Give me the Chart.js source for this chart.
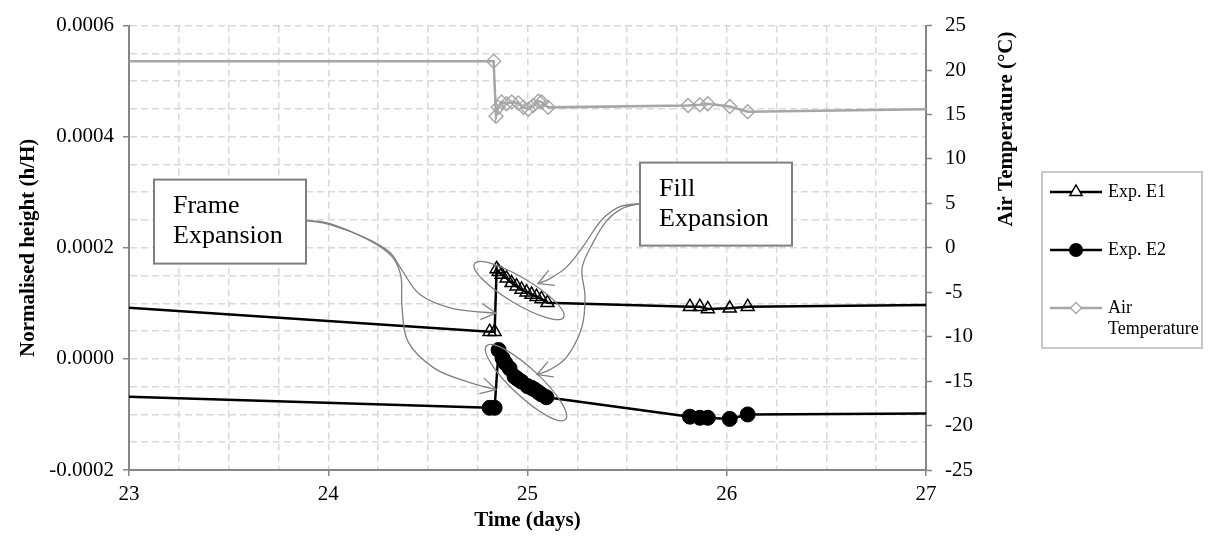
<!DOCTYPE html>
<html>
<head>
<meta charset="utf-8">
<script src="https://cdn.jsdelivr.net/npm/chart.js@4.4.1/dist/chart.umd.min.js"></script>
<style>
  html, body { margin: 0; padding: 0; background: #fff; }
  #wrap { width: 1213px; height: 542px; }
</style>
</head>
<body>
<div id="wrap"><canvas id="chart" width="1213" height="542"></canvas></div>
<script>
// Exp. E1 - normalised height (h/H) against time (days)
const timeE1 = [23.0, 24.81, 24.835, 24.845, 24.855, 24.87, 24.895, 24.92, 24.945, 24.97, 24.995, 25.02, 25.045, 25.07, 25.1,
                25.815, 25.865, 25.905, 26.015, 26.105, 27.0];
const heightE1 = [0.000092, 0.000049, 0.000049, 0.000162, 0.000157, 0.000152, 0.000145, 0.000137, 0.000131, 0.000125, 0.000120, 0.000116, 0.000112, 0.000108, 0.000101,
                  0.000094, 0.000094, 0.000090, 0.000091, 0.000094, 0.000097];

// Exp. E2
const timeE2 = [23.0, 24.81, 24.835, 24.855, 24.875, 24.89, 24.91, 24.935, 24.95, 24.97, 25.0, 25.02, 25.035, 25.055, 25.07, 25.095,
                25.815, 25.865, 25.905, 26.015, 26.105, 27.0];
const heightE2 = [-0.000068, -0.000088, -0.000088, 0.000016, 0.000001, -0.000008, -0.000017, -0.000032, -0.000036, -0.000041, -0.000049, -0.000052, -0.000055, -0.000060, -0.000064, -0.000069,
                  -0.000104, -0.000106, -0.000106, -0.000108, -0.000100, -0.0000985];

// Air temperature (°C)
const timeAir = [23.0, 24.83, 24.842, 24.853, 24.87, 24.895, 24.921, 24.954, 24.979, 25.004, 25.029, 25.054, 25.071, 25.104,
                 25.806, 25.865, 25.905, 26.015, 26.105, 27.0];
const tempAir = [21.0, 21.0, 14.8, 15.8, 16.4, 16.2, 16.4, 16.3, 15.8, 15.6, 16.0, 16.5, 16.4, 15.8,
                 16.0, 16.1, 16.2, 15.9, 15.3, 15.6];

const xTicksMajor = [23, 24, 25, 26, 27];
const serif = '"Liberation Serif", "Times New Roman", serif';
const axisGrey = '#868686';
const gridGrey = '#d9d9d9';
const calloutGrey = '#7f7f7f';

const toPoints = (xs, ys) => xs.map((x, i) => ({ x: x, y: ys[i] }));
const isWhole = v => Math.abs(v - Math.round(v)) < 1e-9;
const isMajorH = v => Math.abs(v / 0.0002 - Math.round(v / 0.0002)) < 1e-6;
// no marker on the points sitting on the plot edges
const edgeRadius = r => c => (c.raw && (c.raw.x <= 23 || c.raw.x >= 27)) ? 0 : r;

// smooth line through a list of points (Catmull-Rom)
function smoothPath(ctx, pts) {
    ctx.moveTo(pts[0][0], pts[0][1]);
    for (let i = 0; i < pts.length - 1; i++) {
        const p0 = pts[i - 1] || pts[i], p1 = pts[i], p2 = pts[i + 1], p3 = pts[i + 2] || p2;
        ctx.bezierCurveTo(
            p1[0] + (p2[0] - p0[0]) / 6, p1[1] + (p2[1] - p0[1]) / 6,
            p2[0] - (p3[0] - p1[0]) / 6, p2[1] - (p3[1] - p1[1]) / 6,
            p2[0], p2[1]);
    }
}

function arrowHead(ctx, from, tip) {
    const a = Math.atan2(tip[1] - from[1], tip[0] - from[0]);
    const len = 17, spread = 0.5;
    ctx.beginPath();
    ctx.moveTo(tip[0] - len * Math.cos(a - spread), tip[1] - len * Math.sin(a - spread));
    ctx.lineTo(tip[0], tip[1]);
    ctx.lineTo(tip[0] - len * Math.cos(a + spread), tip[1] - len * Math.sin(a + spread));
    ctx.stroke();
}

// callout boxes, curved arrows and ellipses, offsets from the plot's top-left corner
const callouts = {
    id: 'callouts',
    afterDatasetsDraw(chart) {
        const { ctx, chartArea: a } = chart;
        const P = pts => pts.map(p => [a.left + p[0], a.top + p[1]]);
        ctx.save();
        ctx.strokeStyle = calloutGrey;
        ctx.lineWidth = 1.3;

        const curves = [
            [[177, 195], [201, 199], [238, 213], [261, 227], [272, 243], [291, 269], [324, 283], [367, 287.5]],
            [[177, 195], [201, 198], [241, 215], [263, 231], [272, 251], [273, 281], [279, 316], [306, 343], [341, 357], [367, 364]],
            [[511, 178], [491, 181], [476, 191], [466, 203], [454, 221], [438, 241], [421, 253], [409, 258]],
            [[511, 178], [493, 183], [477, 196], [463, 219], [453, 243], [456, 271], [453, 301], [438, 331], [421, 344], [408, 349]]
        ];
        curves.forEach(c => {
            const pts = P(c);
            ctx.beginPath();
            smoothPath(ctx, pts);
            ctx.stroke();
            arrowHead(ctx, pts[pts.length - 2], pts[pts.length - 1]);
        });

        const ellipses = [
            { cx: 390, cy: 265, rx: 52, ry: 13, rot: 31 },
            { cx: 397, cy: 357, rx: 54, ry: 14, rot: 43 }
        ];
        ellipses.forEach(e => {
            ctx.beginPath();
            ctx.ellipse(a.left + e.cx, a.top + e.cy, e.rx, e.ry, e.rot * Math.PI / 180, 0, Math.PI * 2);
            ctx.stroke();
        });

        const boxes = [
            { x: 25, y: 154, w: 152, h: 84, lines: ['Frame', 'Expansion'] },
            { x: 511, y: 137, w: 152, h: 83, lines: ['Fill', 'Expansion'] }
        ];
        ctx.lineWidth = 2;
        ctx.font = '26px ' + serif;
        ctx.textAlign = 'left';
        ctx.textBaseline = 'middle';
        boxes.forEach(b => {
            const x = a.left + b.x, y = a.top + b.y;
            ctx.fillStyle = '#fff';
            ctx.fillRect(x, y, b.w, b.h);
            ctx.strokeRect(x, y, b.w, b.h);
            ctx.fillStyle = '#000';
            b.lines.forEach((t, i) => ctx.fillText(t, x + 19, y + 27 + i * 30));
        });
        ctx.restore();
    }
};

function legendMarker(ctx, kind, x, y) {
    ctx.beginPath();
    if (kind === 'triangle') {
        const r = 7;
        ctx.moveTo(x, y - r);
        ctx.lineTo(x + r * 0.866, y + r / 2);
        ctx.lineTo(x - r * 0.866, y + r / 2);
        ctx.closePath();
        ctx.fillStyle = '#fff';
        ctx.fill();
        ctx.lineWidth = 1.5;
        ctx.stroke();
    } else if (kind === 'circle') {
        ctx.arc(x, y, 7, 0, Math.PI * 2);
        ctx.fillStyle = '#000';
        ctx.fill();
    } else {
        const r = 5.5;
        ctx.moveTo(x, y - r);
        ctx.lineTo(x + r, y);
        ctx.lineTo(x, y + r);
        ctx.lineTo(x - r, y);
        ctx.closePath();
        ctx.fillStyle = '#fff';
        ctx.fill();
        ctx.lineWidth = 1.3;
        ctx.stroke();
    }
}

// boxed legend on the right and the right-hand axis title
const sidePanel = {
    id: 'sidePanel',
    afterDraw(chart) {
        const ctx = chart.ctx;
        ctx.save();
        ctx.strokeStyle = '#c8c8c8';
        ctx.lineWidth = 2;
        ctx.strokeRect(1042, 172, 160, 176);

        const items = [
            { kind: 'triangle', color: '#000', y: 192, text: ['Exp. E1'] },
            { kind: 'circle', color: '#000', y: 250, text: ['Exp. E2'] },
            { kind: 'diamond', color: '#a6a6a6', y: 308, text: ['Air', 'Temperature'] }
        ];
        ctx.font = '18px ' + serif;
        ctx.textAlign = 'left';
        ctx.textBaseline = 'middle';
        items.forEach(it => {
            ctx.strokeStyle = it.color;
            ctx.lineWidth = 2.5;
            ctx.beginPath();
            ctx.moveTo(1050, it.y);
            ctx.lineTo(1102, it.y);
            ctx.stroke();
            legendMarker(ctx, it.kind, 1076, it.y);
            ctx.fillStyle = '#000';
            it.text.forEach((t, i) => ctx.fillText(t, 1108, it.y + i * 21));
        });

        ctx.font = 'bold 21px ' + serif;
        ctx.textAlign = 'center';
        ctx.translate(1007, 129);
        ctx.rotate(-Math.PI / 2);
        ctx.fillText('Air Temperature (°C)', 0, 0);
        ctx.restore();
    }
};

const tickFont = { family: serif, size: 21 };
const titleFont = { family: serif, size: 21, weight: 'bold' };

new Chart(document.getElementById('chart'), {
    type: 'line',
    data: {
        datasets: [
            {
                label: 'Exp. E1',
                data: toPoints(timeE1, heightE1),
                yAxisID: 'y',
                borderColor: '#000',
                borderWidth: 2.5,
                pointStyle: 'triangle',
                pointRadius: edgeRadius(7.5),
                pointBorderColor: '#000',
                pointBackgroundColor: 'rgba(255,255,255,0)',
                pointBorderWidth: 1.5,
                tension: 0
            },
            {
                label: 'Exp. E2',
                data: toPoints(timeE2, heightE2),
                yAxisID: 'y',
                borderColor: '#000',
                borderWidth: 2.5,
                pointStyle: 'circle',
                pointRadius: edgeRadius(7.5),
                pointBorderColor: '#000',
                pointBackgroundColor: '#000',
                pointBorderWidth: 1,
                tension: 0
            },
            {
                label: 'Air Temperature',
                data: toPoints(timeAir, tempAir),
                yAxisID: 'y2',
                borderColor: '#a6a6a6',
                borderWidth: 2.5,
                pointStyle: 'rectRot',
                pointRadius: edgeRadius(7),
                pointBorderColor: '#a6a6a6',
                pointBackgroundColor: 'rgba(255,255,255,0)',
                pointBorderWidth: 1.4,
                tension: 0
            }
        ]
    },
    options: {
        responsive: false,
        animation: false,
        events: [],
        layout: { padding: { top: 19, left: 0, right: 0, bottom: 0 } },
        plugins: { legend: { display: false }, tooltip: { enabled: false } },
        scales: {
            x: {
                type: 'linear',
                min: 23,
                max: 27,
                afterFit: s => { s.height = 72; },
                afterBuildTicks: s => { s.ticks = s.ticks.filter(t => t.value >= 23 && t.value <= 27); },
                ticks: {
                    stepSize: 0.25,
                    autoSkip: false,
                    maxRotation: 0,
                    padding: 6,
                    color: '#000',
                    font: tickFont,
                    callback: v => isWhole(v) && xTicksMajor.includes(Math.round(v)) ? String(Math.round(v)) : ''
                },
                grid: {
                    color: gridGrey,
                    lineWidth: 1.5,
                    tickLength: 6,
                    tickWidth: 1.5,
                    tickColor: c => isWhole(c.tick.value) ? axisGrey : 'rgba(0,0,0,0)'
                },
                border: { color: axisGrey, width: 2, dash: [7, 4] },
                title: { display: true, text: 'Time (days)', color: '#000', font: titleFont, padding: { top: 0, bottom: 9 } }
            },
            y: {
                position: 'left',
                min: -0.0002,
                max: 0.0006,
                afterFit: s => { s.width = 129; },
                ticks: {
                    stepSize: 0.00005,
                    autoSkip: false,
                    padding: 9,
                    color: '#000',
                    font: tickFont,
                    callback: v => isMajorH(v) ? (Math.abs(v) < 1e-12 ? '0.0000' : v.toFixed(4)) : ''
                },
                grid: {
                    color: gridGrey,
                    lineWidth: 1.5,
                    tickLength: 6,
                    tickWidth: 1.5,
                    tickColor: c => isMajorH(c.tick.value) ? axisGrey : 'rgba(0,0,0,0)'
                },
                border: { color: axisGrey, width: 2, dash: [7, 4] },
                title: { display: true, text: 'Normalised height (h/H)', color: '#000', font: titleFont, padding: { top: 16, bottom: 0 } }
            },
            y2: {
                position: 'right',
                min: -25,
                max: 25,
                afterFit: s => { s.width = 287; },
                ticks: {
                    stepSize: 5,
                    autoSkip: false,
                    padding: 13,
                    color: '#000',
                    font: tickFont
                },
                grid: {
                    drawOnChartArea: false,
                    tickLength: 6,
                    tickWidth: 1.5,
                    tickColor: axisGrey
                },
                border: { color: axisGrey, width: 2 }
            }
        }
    },
    plugins: [callouts, sidePanel]
});
</script>
</body>
</html>
